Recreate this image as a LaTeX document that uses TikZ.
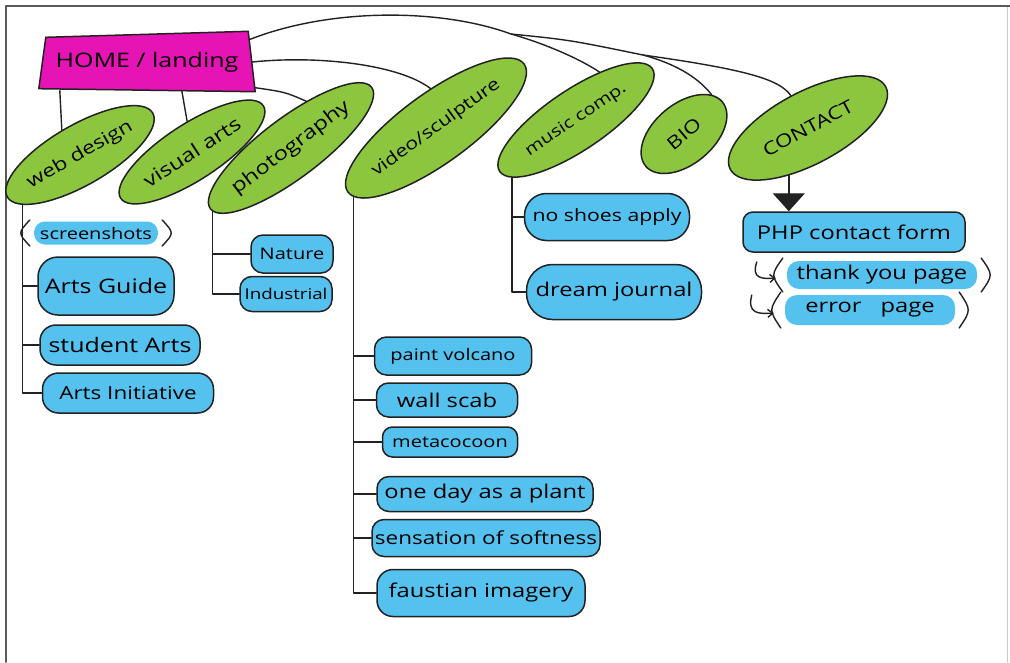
\documentclass[tikz,border=0pt]{standalone}
\usepackage{fontspec}
\setmainfont{Open Sans}[FakeStretch=1.25]
\usetikzlibrary{shapes.geometric,arrows.meta,calc,backgrounds}
\definecolor{hmag}{HTML}{E614B4}
\definecolor{hgreen}{HTML}{8CC63F}
\definecolor{hblue}{HTML}{55C1EE}
\definecolor{ink}{HTML}{222222}
\newcommand\myfs[1]{\fontsize{#1}{#1}\selectfont}
\begin{document}
\begin{tikzpicture}[x=1pt,y=-1pt, line cap=round, line join=round,
  conn/.style={draw=ink, line width=1.4pt},
  homebox/.style={rectangle, inner sep=0pt, minimum width=210pt, minimum height=57pt},
  cat/.style={ellipse, draw=ink, line width=1.5pt, fill=hgreen, inner sep=0pt},
  leaf/.style={rectangle, rounded corners=14pt, draw=ink, line width=1.5pt, fill=hblue, inner sep=0pt},
  hl/.style={rectangle, rounded corners=12pt, fill=hblue, inner sep=0pt},
  hook/.style={conn, -{Straight Barb[length=5pt,width=8pt]}}]
\useasboundingbox (0,0) rectangle (1010,662);
\begin{scope}[on background layer]
\fill[white] (0,0) rectangle (1010,662);
\end{scope}
\draw[gray!40, line width=1pt] (1007,6) -- (1007,662);
\draw[black!65, line width=1.6pt] (6,662) -- (6,6) -- (1010,6);

% home
\node[homebox] (home) at (147,62) {\myfs{20}HOME / landing};
\begin{scope}[on background layer]
\filldraw[fill=hmag, draw=ink, line width=1.5pt] ([xshift=4pt,yshift=-4pt]home.north west) -- ([xshift=-4pt,yshift=2pt]home.north east) -- ([xshift=3pt,yshift=-1pt]home.south east) -- ([xshift=-3pt,yshift=2pt]home.south west) -- cycle;
\end{scope}

% categories
\node[cat, minimum width=164pt, minimum height=60pt, rotate=30] (web) at (80,155) {\myfs{18}web design};
\node[cat, minimum width=170pt, minimum height=56pt, rotate=33] (visual) at (192,152) {\myfs{19}visual arts};
\node[cat, minimum width=190pt, minimum height=60pt, rotate=37] (photo) at (291,148) {\myfs{19}photography};
\node[cat, minimum width=210pt, minimum height=70pt, rotate=36] (video) at (436,128) {\myfs{17}video/sculpture};
\node[cat, minimum width=184pt, minimum height=60pt, rotate=34] (music) at (576,120) {\myfs{16}music comp.};
\node[cat, minimum width=100pt, minimum height=60pt, rotate=40] (bio) at (684,134) {\myfs{18}BIO};
\node[cat, minimum width=176pt, minimum height=72pt, rotate=28] (contact) at (808,128) {\myfs{18}CONTACT};

% web design leaves
\node[hl, minimum width=124pt, minimum height=23pt, rounded corners=11pt] (shots) at (96,233) {\myfs{16}screenshots};
\node[leaf, minimum width=136pt, minimum height=58pt, rounded corners=20pt] (guide) at (106,286) {\myfs{20}Arts Guide};
\node[leaf, minimum width=160pt, minimum height=40pt, rounded corners=16pt] (student) at (120,345) {\myfs{20}student Arts};
\node[leaf, minimum width=171pt, minimum height=40pt, rounded corners=16pt] (init) at (128,393) {\myfs{18}Arts Initiative};

% photography leaves
\node[leaf, minimum width=82pt, minimum height=38pt, rounded corners=12pt] (nature) at (292,254) {\myfs{16}Nature};
\node[leaf, minimum width=92pt, minimum height=35pt, rounded corners=12pt] (indus) at (286,294) {\myfs{15}Industrial};

% video leaves
\node[leaf, minimum width=157pt, minimum height=38pt, rounded corners=12pt] (volcano) at (453,356) {\myfs{16}paint volcano};
\node[leaf, minimum width=141pt, minimum height=34pt, rounded corners=12pt] (scab) at (447,400) {\myfs{19}wall scab};
\node[leaf, minimum width=135pt, minimum height=30pt, rounded corners=10pt] (cocoon) at (450,442) {\myfs{16}metacocoon};
\node[leaf, minimum width=216pt, minimum height=35pt, rounded corners=12pt] (plant) at (485,494) {\myfs{19}one day as a plant};
\node[leaf, minimum width=228pt, minimum height=37pt, rounded corners=12pt] (soft) at (486,538) {\myfs{18}sensation of softness};
\node[leaf, minimum width=208pt, minimum height=47pt, rounded corners=16pt] (faust) at (481,593) {\myfs{19}faustian imagery};

% music leaves
\node[leaf, minimum width=165pt, minimum height=47pt, rounded corners=22pt] (shoes) at (607,217) {\myfs{17}no shoes apply};
\node[leaf, minimum width=175pt, minimum height=55pt, rounded corners=26pt] (dream) at (614,292) {\myfs{19}dream journal};

% contact leaves
\node[leaf, minimum width=222pt, minimum height=40pt, rounded corners=10pt] (php) at (854,232) {\myfs{19}PHP contact form};
\node[hl, minimum width=190pt, minimum height=28pt] (thanks) at (882,275) {\myfs{19}thank you page};
\node[hl, minimum width=170pt, minimum height=30pt] (error) at (870,310) {\myfs{19}error\quad page};

% parentheses
\foreach \n/\h in {shots/13, thanks/17, error/18}{
  \draw[conn] ([xshift=-4pt,yshift=\h pt]\n.west) .. controls ([xshift=-16pt]\n.west) .. ([xshift=-4pt,yshift=-\h pt]\n.west);
  \draw[conn] ([xshift=4pt,yshift=\h pt]\n.east) .. controls ([xshift=16pt]\n.east) .. ([xshift=4pt,yshift=-\h pt]\n.east);
}

% hook arrows
\draw[hook] ([xshift=-30pt,yshift=13pt]thanks.west) .. controls ([xshift=-36pt,yshift=-4pt]thanks.west) and ([xshift=-24pt,yshift=-4pt]thanks.west) .. ([xshift=-11pt,yshift=-3pt]thanks.west);
\draw[hook] ([xshift=-33pt,yshift=15pt]error.west) .. controls ([xshift=-38pt,yshift=-4pt]error.west) and ([xshift=-26pt,yshift=-4pt]error.west) .. ([xshift=-11pt,yshift=-3pt]error.west);

% home connectors
\draw[conn] ([xshift=18pt]home.south west) -- (web.96);
\draw[conn] ([xshift=140pt]home.south west) -- (visual.66);
\draw[conn] ([xshift=3pt,yshift=3pt]home.south east) .. controls (285,92) .. (photo.35);
\draw[conn] (home.east) .. controls (320,55) and (400,65) .. (video.62);
\coordinate (j1) at (511,34);
\coordinate (j2) at (643,55);
\draw[conn] ([xshift=-2pt,yshift=-6pt]home.north east) .. controls (330,8) and (440,8) .. (j1) .. controls (550,45) and (585,62) .. (music.30);
\draw[conn] (j1) .. controls (570,40) .. (j2) .. controls (750,70) and (780,80) .. (contact.90);
\draw[conn] (j2) .. controls (680,65) and (700,80) .. (bio.15);

% trunks
\draw[conn] (web.191) -- (web.191 |- init.west) -- (init.west);
\draw[conn] (web.191 |- guide.west) -- (guide.west);
\draw[conn] (web.191 |- student.west) -- (student.west);
\draw[conn] (web.191 |- shots.west) -- ([xshift=-12pt]shots.west);

\draw[conn] (photo.182) -- (photo.182 |- indus.west) -- (indus.west);
\draw[conn] (photo.182 |- nature.west) -- (nature.west);

\draw[conn] (video.184) -- (video.184 |- faust.west) -- (faust.west);
\foreach \n in {volcano,scab,cocoon,plant,soft}{
  \draw[conn] (video.184 |- \n.west) -- (\n.west);
}

\draw[conn] (music.188) -- (music.188 |- dream.west) -- (dream.west);
\draw[conn] (music.188 |- shoes.west) -- (shoes.west);

% contact arrow
\draw[conn, -{Triangle[width=32pt,length=18pt]}] (contact.220) -- (contact.220 |- php.north);
\end{tikzpicture}
\end{document}
